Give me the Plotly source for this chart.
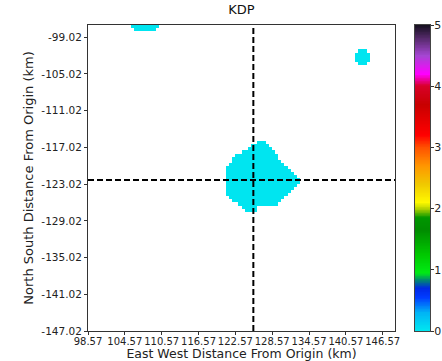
import numpy as np
import plotly.graph_objects as go

# Grid definition (km from origin), 0.5 km cells
x_start, y_start = 98.57, -97.02
cell_km = 0.5
n_cols, n_rows = 100, 100

x_ticks = [98.57, 104.57, 110.57, 116.57, 122.57, 128.57, 134.57, 140.57, 146.57]
y_ticks = [-99.02, -105.02, -111.02, -117.02, -123.02, -129.02, -135.02, -141.02, -147.02]
cbar_ticks = [0, 1, 2, 3, 4, 5]
kdp_min, kdp_max = 0, 5

# Echo regions: (row index from top, first column, last column)
main_cell_rows = [
    (38, 55, 57), (39, 53, 58), (40, 52, 59), (41, 50, 60), (42, 48, 61),
    (43, 47, 61), (44, 47, 62), (45, 46, 63), (46, 45, 64), (47, 45, 65),
    (48, 45, 66), (49, 45, 67), (50, 45, 68), (51, 45, 68), (52, 45, 67),
    (53, 45, 66), (54, 45, 65), (55, 45, 64), (56, 46, 63), (57, 47, 62),
    (58, 49, 61), (59, 50, 54), (60, 51, 54),
]
north_cell_rows = [(0, 14, 22), (1, 15, 21)]
east_cell_rows = [(8, 88, 90), (9, 87, 91), (10, 87, 91), (11, 87, 91), (12, 88, 90)]

# Specific differential phase values (deg/km) per region
main_kdp = 0.02
north_kdp = 0.02
east_kdp = 0.02

# Cross-hair marking the point of interest
cross_x = 125.5
cross_y = -122.35

# Colormap stops for KDP 0..5
cmap_stops = [
    (0.00, "rgb(0,232,240)"),
    (0.06, "rgb(0,180,245)"),
    (0.11, "rgb(0,60,255)"),
    (0.14, "rgb(0,40,230)"),
    (0.165, "rgb(0,130,120)"),
    (0.19, "rgb(0,235,20)"),
    (0.25, "rgb(0,200,0)"),
    (0.33, "rgb(0,140,0)"),
    (0.37, "rgb(0,150,0)"),
    (0.40, "rgb(180,210,0)"),
    (0.42, "rgb(255,250,0)"),
    (0.48, "rgb(240,200,0)"),
    (0.54, "rgb(255,150,0)"),
    (0.60, "rgb(255,80,0)"),
    (0.64, "rgb(255,0,0)"),
    (0.74, "rgb(200,0,0)"),
    (0.80, "rgb(215,0,40)"),
    (0.84, "rgb(255,0,255)"),
    (0.90, "rgb(165,70,210)"),
    (0.96, "rgb(80,40,100)"),
    (1.00, "rgb(20,15,30)"),
]

x_centers = x_start + cell_km * (np.arange(n_cols) + 0.5)
y_centers = y_start - cell_km * (np.arange(n_rows) + 0.5)
z = np.full((n_rows, n_cols), np.nan)
for rows, val in ((main_cell_rows, main_kdp), (north_cell_rows, north_kdp), (east_cell_rows, east_kdp)):
    for r, c0, c1 in rows:
        z[r, c0:c1 + 1] = val

font_family = "DejaVu Sans"
text_color = "#222"

# Figure geometry in pixels
fig_w, fig_h = 442, 361
m_l, m_r, m_t, m_b = 88, 12, 25, 30
plot_right_px = 395
cbar_left_px, cbar_right_px = 415, 430
span = fig_w - m_l - m_r

fig = go.Figure()
fig.add_trace(go.Heatmap(
    x=x_centers, y=y_centers, z=z,
    zmin=kdp_min, zmax=kdp_max, colorscale=cmap_stops,
    hoverongaps=False, showscale=False, xaxis="x", yaxis="y",
))

# Colour bar drawn as a ramp on its own axes
ramp = np.linspace(kdp_min, kdp_max, 400)
fig.add_trace(go.Heatmap(
    x=[0], y=ramp, z=ramp.reshape(-1, 1),
    zmin=kdp_min, zmax=kdp_max, colorscale=cmap_stops,
    showscale=False, xaxis="x2", yaxis="y2", hoverinfo="y",
))

fig.add_shape(type="line", x0=cross_x, x1=cross_x, y0=0, y1=1, xref="x", yref="y domain",
              line=dict(color="black", width=2, dash="6px,3px"))
fig.add_shape(type="line", x0=0, x1=1, y0=cross_y, y1=cross_y, xref="x domain", yref="y",
              line=dict(color="black", width=2, dash="6px,3px"))

axis_common = dict(
    showgrid=False, zeroline=False, showline=True, mirror=True, automargin=False,
    linecolor="#333", linewidth=1, ticks="outside", ticklen=3, tickcolor="#333",
    tickangle=0,
)
fig.update_layout(
    width=fig_w, height=fig_h,
    margin=dict(l=m_l, r=m_r, t=m_t, b=m_b, autoexpand=False),
    paper_bgcolor="white", plot_bgcolor="white",
    title=dict(text="KDP", x=(plot_right_px - m_l) / 2 / span, xanchor="center", xref="paper",
               y=1, yref="container", yanchor="top", pad=dict(t=5),
               font=dict(family=font_family, size=13, color="#111")),
    xaxis=dict(domain=[0, (plot_right_px - m_l) / span],
               range=[x_start, x_start + cell_km * n_cols], tickvals=x_ticks,
               ticktext=[f"{v:.2f}" for v in x_ticks], ticklabelstandoff=-2,
               tickfont=dict(family=font_family, size=10, color=text_color),
               title=dict(text="East West Distance From Origin (km)", standoff=3,
                          font=dict(family=font_family, size=12.5, color=text_color)),
               **axis_common),
    yaxis=dict(range=[y_start - cell_km * n_rows, y_start], tickvals=y_ticks,
               ticktext=[f"{v:.2f}" for v in y_ticks],
               tickfont=dict(family=font_family, size=10.5, color=text_color),
               title=dict(text="North South Distance From Origin (km)", standoff=4,
                          font=dict(family=font_family, size=13, color=text_color)),
               **axis_common),
    xaxis2=dict(domain=[(cbar_left_px - m_l) / span, (cbar_right_px - m_l) / span],
                range=[-0.5, 0.5], showticklabels=False, ticks="", showgrid=False,
                zeroline=False, showline=True, mirror=True, linecolor="#444",
                linewidth=1, anchor="y2", automargin=False),
    yaxis2=dict(domain=[0, 1], range=[kdp_min, kdp_max], anchor="x2", side="right",
                tickvals=cbar_ticks, showgrid=False, zeroline=False, showline=True,
                mirror=True, linecolor="#444", linewidth=1, ticks="outside", ticklen=3,
                tickcolor="#333", automargin=False, ticklabelstandoff=-2,
                tickfont=dict(family=font_family, size=11, color=text_color)),
)

fig.write_html("out.html")
